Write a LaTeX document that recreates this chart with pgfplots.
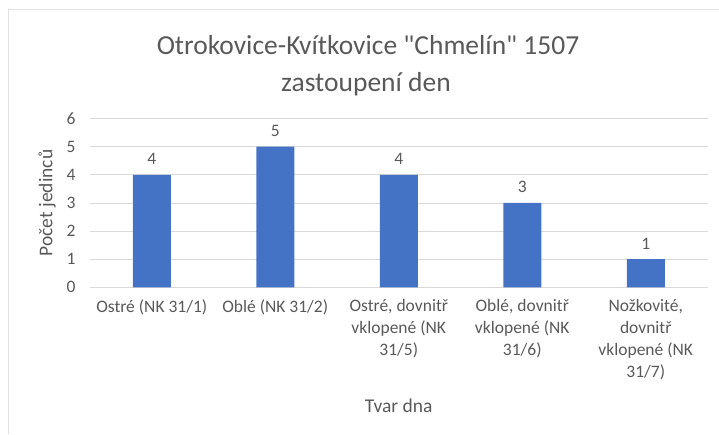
\documentclass[border=0pt]{standalone}
\usepackage{pgfplots}
\pgfplotsset{compat=1.18}
\usepackage{fontspec}
\setmainfont{Carlito}
\definecolor{barblue}{HTML}{4472C4}
\definecolor{txt}{HTML}{595959}
\definecolor{grd}{HTML}{D9D9D9}
\begin{document}
\begin{tikzpicture}[x=1pt,y=1pt]
\path[use as bounding box] (0pt,0pt) rectangle (719pt,434pt);
\draw[grd!80!white, line width=1pt] (8.5pt,0pt) -- (8.5pt,424pt) -- (719pt,424pt);
\node[txt, font=\fontsize{27.5}{32}\selectfont] at (368pt,389pt) {Otrokovice-Kvítkovice \textquotedbl Chmelín\textquotedbl{} 1507};
\node[txt, font=\fontsize{27.5}{32}\selectfont] at (366pt,350pt) {zastoupení den};
\begin{axis}[
  at={(90pt,146.7pt)}, anchor=south west,
  scale only axis, width=617.5pt, height=168.7pt,
  xmin=-0.5, xmax=4.5, ymin=0, ymax=6,
  ytick={0,1,2,3,4,5,6},
  xtick={0,1,2,3,4},
  xticklabels={{Ostré (NK 31/1)},{Oblé (NK 31/2)},{Ostré, dovnitř\\vklopené (NK\\31/5)},{Oblé, dovnitř\\vklopené (NK\\31/6)},{Nožkovité,\\dovnitř\\vklopené (NK\\31/7)}},
  xticklabel style={align=center, text=txt, font=\fontsize{17.5}{22}\selectfont, anchor=north, yshift=-9pt},
  yticklabel style={text=txt, font=\fontsize{17.5}{20}\selectfont, xshift=-11pt},
  /pgf/number format/assume math mode=true,
  major tick length=0pt,
  axis line style={draw=none},
  ymajorgrids, grid style={grd, line width=0.8pt},
  ybar, bar width=38pt,
  xlabel={Tvar dna},
  xlabel style={text=txt, font=\fontsize{19.5}{22}\selectfont, at={(axis description cs:0.5,-0.705)}, anchor=center},
  ylabel={Počet jedinců},
  ylabel style={text=txt, font=\fontsize{19.5}{22}\selectfont, at={(axis description cs:-0.0696,0.5)}, anchor=center},
  nodes near coords,
  nodes near coords style={text=txt, font=\fontsize{17.5}{20}\selectfont, yshift=6.5pt},
  point meta=y,
]
\addplot[fill=barblue, draw=none] coordinates {(0,4) (1,5) (2,4) (3,3) (4,1)};
\end{axis}
\end{tikzpicture}
\end{document}
